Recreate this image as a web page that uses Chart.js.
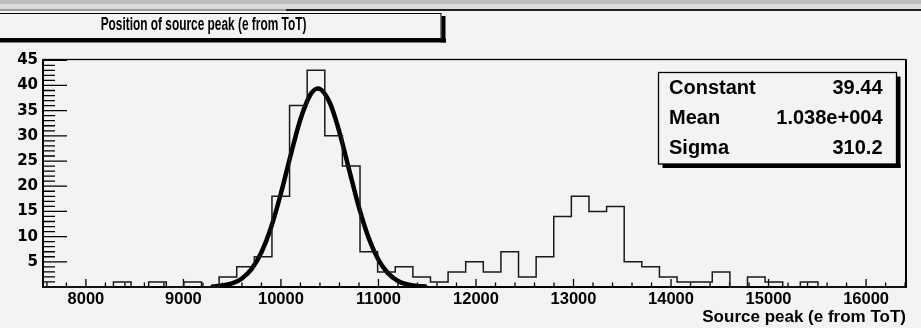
<!DOCTYPE html>
<html>
<head>
<meta charset="utf-8">
<script src="https://cdn.jsdelivr.net/npm/chart.js@4.4.1/dist/chart.umd.min.js"></script>
<style>
  html, body { margin: 0; padding: 0; background: #f5f2f5; }
  #wrap { width: 921px; height: 328px; }
</style>
</head>
<body>
<div id="wrap"><canvas id="c"></canvas></div>
<script>
// histogram: 49 bins starting at binStart
const binStart = 7560;
const binWidth = 180.6;
const counts = [0, 0, 0, 0, 1, 0, 1, 0, 1, 0,
                2, 4, 6, 18, 36, 43, 30, 24, 7, 3,
                4, 2, 1, 3, 5, 3, 7, 2, 6, 14,
                18, 15, 16, 5, 4, 2, 1, 1, 3, 0,
                2, 1, 0, 1, 0, 0, 0, 0, 0];

// gaussian fit curve
const fitX = [9300, 9400, 9500, 9600, 9700, 9800, 9900, 10000, 10100, 10200, 10300, 10380,
              10500, 10600, 10700, 10800, 10900, 11000, 11100, 11200, 11300, 11400, 11480];
const fitY = [0.1, 0.3, 0.7, 1.7, 3.6, 6.9, 11.9, 18.6, 26.2, 33.3, 38.1, 39.4,
              36.6, 30.7, 23.2, 15.8, 9.7, 5.4, 2.7, 1.2, 0.5, 0.2, 0.1];

const xTicks = [8000, 9000, 10000, 11000, 12000, 13000, 14000, 15000, 16000];
const yTicks = [5, 10, 15, 20, 25, 30, 35, 40, 45];
const statNames = ["Constant", "Mean", "Sigma"];
const statValues = ["39.44", "1.038e+004", "310.2"];
const titleText = "Position of source peak (e from ToT)";
const xTitle = "Source peak (e from ToT)";

const xMax = binStart + counts.length * binWidth;
const yMax = 45.15;
const BG = "#f5f2f5";

// step outline points (left edge of each bin + closing right edge)
const histPoints = counts.map((v, i) => ({ x: binStart + i * binWidth, y: v }));
histPoints.push({ x: xMax, y: counts[counts.length - 1] });
const fitPoints = fitX.map((x, i) => ({ x: x, y: fitY[i] }));

const rootStyle = {
  id: "rootStyle",
  beforeDraw(chart) {
    const ctx = chart.ctx;
    ctx.save();
    ctx.fillStyle = BG;
    ctx.fillRect(0, 0, chart.width, chart.height);
    // window-ish strip on top
    ctx.fillStyle = "#bdbdbd";
    ctx.fillRect(0, 0, chart.width, 4);
    ctx.fillStyle = "#dadada";
    ctx.fillRect(0, 4, chart.width, 5);
    ctx.fillStyle = "#9a9a9a";
    ctx.fillRect(0, 9, 286, 2);
    ctx.fillStyle = "#222";
    ctx.fillRect(286, 9, chart.width - 286, 2);
    ctx.restore();
  },
  beforeDatasetsDraw(chart) {
    const ctx = chart.ctx;
    const a = chart.chartArea;
    const xs = chart.scales.x, ys = chart.scales.y;
    ctx.save();
    ctx.strokeStyle = "#000";
    // frame
    ctx.lineWidth = 1.3;
    ctx.strokeRect(a.left, a.top, a.right - a.left, a.bottom - a.top);
    ctx.lineWidth = 2;
    ctx.beginPath();
    ctx.moveTo(a.left, a.top); ctx.lineTo(a.left, a.bottom); ctx.lineTo(a.right, a.bottom); ctx.lineTo(a.right, a.top);
    ctx.stroke();
    // x ticks, inward
    ctx.lineWidth = 1.3;
    ctx.beginPath();
    for (let v = 7600; v < xMax; v += 200) {
      const px = xs.getPixelForValue(v);
      const len = v % 1000 === 0 ? 8 : 4.5;
      ctx.moveTo(px, a.bottom); ctx.lineTo(px, a.bottom - len);
    }
    // y ticks, inward
    for (let v = 1; v <= 45; v++) {
      const py = ys.getPixelForValue(v);
      const len = v % 5 === 0 ? 24 : 12;
      ctx.moveTo(a.left, py); ctx.lineTo(a.left + len, py);
    }
    ctx.stroke();
    ctx.restore();
  },
  afterDraw(chart) {
    const ctx = chart.ctx;
    ctx.save();
    // title box with shadow
    ctx.fillStyle = "#000";
    ctx.fillRect(-5, 38.5, 451, 4);
    ctx.fillRect(441.5, 16, 4, 26.5);
    ctx.fillStyle = BG;
    ctx.fillRect(-5, 13, 446, 25.5);
    ctx.strokeStyle = "#000";
    ctx.lineWidth = 1;
    ctx.strokeRect(-5, 13.5, 446, 25);
    ctx.fillStyle = "#000";
    ctx.save();
    ctx.translate(203.5, 30);
    ctx.scale(0.66, 1);
    ctx.font = 'bold 18px "Liberation Sans", Arial, sans-serif';
    ctx.textAlign = "center";
    ctx.textBaseline = "alphabetic";
    ctx.fillText(titleText, 0, 0);
    ctx.restore();

    // stats box
    const bx = 658.5, by = 72.5, bw = 238, bh = 91.5;
    ctx.fillStyle = "#000";
    ctx.fillRect(bx + 4, by + bh, bw, 4);
    ctx.fillRect(bx + bw, by + 4, 4, bh);
    ctx.fillStyle = BG;
    ctx.fillRect(bx, by, bw, bh);
    ctx.lineWidth = 1.3;
    ctx.strokeRect(bx, by, bw, bh);
    ctx.fillStyle = "#000";
    ctx.font = 'bold 20px "Liberation Sans", Arial, sans-serif';
    ctx.textBaseline = "alphabetic";
    statNames.forEach((n, i) => {
      const yy = 93.5 + i * 30;
      ctx.textAlign = "left";
      ctx.fillText(n, 669, yy);
      ctx.textAlign = "right";
      ctx.fillText(statValues[i], 882.5, yy);
    });
    ctx.restore();
  }
};

new Chart(document.getElementById("c"), {
  type: "line",
  data: {
    datasets: [
      {
        label: "hist",
        data: histPoints,
        stepped: "before",
        borderColor: "#1a1a1a",
        borderWidth: 1.5,
        pointRadius: 0,
        fill: false,
        clip: false
      },
      {
        label: "fit",
        data: fitPoints,
        borderColor: "#000",
        borderWidth: 4.5,
        borderCapStyle: "round",
        borderJoinStyle: "round",
        cubicInterpolationMode: "monotone",
        pointRadius: 0,
        fill: false
      }
    ]
  },
  options: {
    responsive: true,
    maintainAspectRatio: false,
    animation: false,
    events: [],
    layout: { padding: { top: 59.5, right: 15, bottom: 0, left: 0 } },
    plugins: { legend: { display: false }, tooltip: { enabled: false } },
    scales: {
      x: {
        type: "linear",
        min: binStart,
        max: xMax,
        grid: { display: false, drawTicks: false },
        border: { display: false },
        afterFit(s) { s.height = 41; },
        afterBuildTicks(s) { s.ticks = xTicks.map(v => ({ value: v })); },
        ticks: {
          autoSkip: false,
          maxRotation: 0,
          padding: 3,
          color: "#000",
          font: { family: '"Liberation Sans", Arial, sans-serif', size: 16.5, weight: "bold" },
          callback: v => String(v)
        },
        title: {
          display: true,
          text: xTitle,
          align: "end",
          color: "#000",
          font: { family: '"Liberation Sans", Arial, sans-serif', size: 17, weight: "bold" },
          padding: { top: 0, bottom: 0 }
        }
      },
      y: {
        min: 0,
        max: yMax,
        grid: { display: false, drawTicks: false },
        border: { display: false },
        afterFit(s) { s.width = 43; },
        afterBuildTicks(s) { s.ticks = yTicks.map(v => ({ value: v })); },
        ticks: {
          padding: 5,
          color: "#000",
          font: { family: '"DejaVu Sans", sans-serif', size: 15, weight: "bold" },
          callback: v => String(v)
        }
      }
    }
  },
  plugins: [rootStyle]
});
</script>
</body>
</html>
